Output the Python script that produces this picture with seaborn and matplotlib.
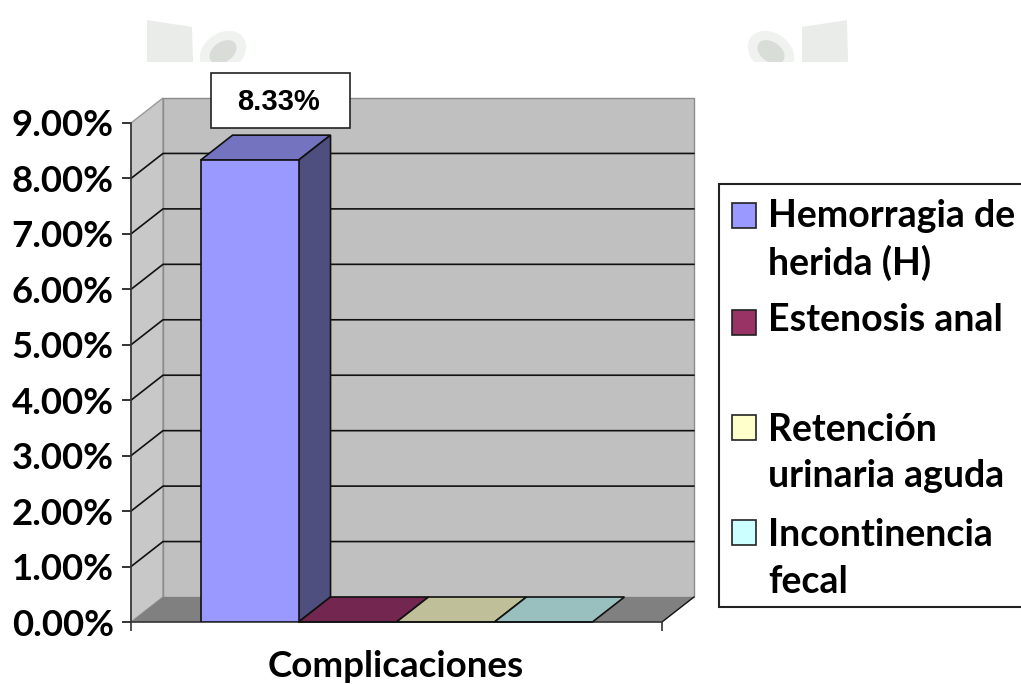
import matplotlib
matplotlib.use("Agg")
import matplotlib.pyplot as plt
import pandas as pd
import seaborn as sns
from matplotlib.patches import Ellipse, Polygon, Rectangle
from matplotlib.ticker import FuncFormatter
from matplotlib.transforms import Affine2D

# Data
series = ["Hemorragia de\nherida (H)", "Estenosis anal", "Retención\nurinaria aguda", "Incontinencia\nfecal"]
values = [8.33, 0, 0, 0]
y_ticks = [0, 1, 2, 3, 4, 5, 6, 7, 8, 9]
x_title = "Complicaciones"
value_label = "8.33%"

# Colors
front_colors = ["#9999FF", "#993366", "#FFFFCC", "#CCFFFF"]
top_colors = ["#7373BF", "#732650", "#BFBF99", "#99BFBF"]
side_colors = ["#4F4F7F", "#4C1933", "#7F7F66", "#667F7F"]

# Layout in pixels of the 1021x684 picture
W, H = 1021, 684
LEFT, RIGHT, TOP, BOTTOM = 131, 662, 123, 622
DX, DY = 32, 25

sns.set_style("white")
plt.rcParams["font.family"] = ["Lato", "DejaVu Sans"]

fig = plt.figure(figsize=(W / 100, H / 100), dpi=100)
ax = fig.add_axes([LEFT / W, 1 - BOTTOM / H, (RIGHT - LEFT) / W, (BOTTOM - TOP) / H])
px = Affine2D().scale(1, -1).translate(0, H)


def poly(points, color, edge="none", lw=1.0, z=1):
    ax.add_patch(Polygon(points, closed=True, facecolor=color, edgecolor=edge, linewidth=lw,
                         transform=px, clip_on=False, zorder=z))


df = pd.DataFrame({"grupo": [x_title] * len(series), "serie": series, "valor": values})
sns.barplot(data=df, x="grupo", y="valor", hue="serie", hue_order=series, palette=front_colors,
            width=0.738, gap=0, saturation=1, edgecolor="#111111", linewidth=1.2,
            legend=False, zorder=5, ax=ax)
ax.set_xlim(-0.5, 0.5)
ax.set_ylim(0, 9)
ax.patch.set_visible(False)

# Walls and floor
poly([(LEFT, BOTTOM), (LEFT + DX, BOTTOM - DY), (LEFT + DX, TOP - DY), (LEFT, TOP)], "#C8C8C8", "#9A9A9A", 1.0, 1)
poly([(LEFT + DX, BOTTOM - DY), (RIGHT + DX, BOTTOM - DY), (RIGHT + DX, TOP - DY), (LEFT + DX, TOP - DY)],
     "#C0C0C0", "#8C8C8C", 1.0, 1)
poly([(LEFT, BOTTOM), (RIGHT, BOTTOM), (RIGHT + DX, BOTTOM - DY), (LEFT + DX, BOTTOM - DY)], "#808080", z=1.5)

# Gridlines on the walls
for t in y_ticks[1:-1]:
    y = ax.transData.transform((0, t))[1]
    y = H - y
    ax.plot([LEFT, LEFT + DX, RIGHT + DX], [y, y - DY, y - DY], color="#111111", lw=1.2,
            transform=px, clip_on=False, zorder=2)
ax.plot([RIGHT, RIGHT + DX], [BOTTOM, BOTTOM - DY], color="#111111", lw=1.0, transform=px, clip_on=False, zorder=2)

# 3D faces of the bars
for bar, top_c, side_c in zip(ax.patches[:len(series)], top_colors, side_colors):
    x0, y0 = ax.transData.transform((bar.get_x(), bar.get_height()))
    x1, y1 = ax.transData.transform((bar.get_x() + bar.get_width(), 0))
    y0, y1 = H - y0, H - y1
    poly([(x0, y0), (x1, y0), (x1 + DX, y0 - DY), (x0 + DX, y0 - DY)], top_c, "#111111", 1.2, 4)
    if y1 - y0 > 1:
        poly([(x1, y0), (x1 + DX, y0 - DY), (x1 + DX, y1 - DY), (x1, y1)], side_c, "#111111", 1.2, 4)

# Axes
for name in ["top", "right"]:
    ax.spines[name].set_visible(False)
for name in ["left", "bottom"]:
    ax.spines[name].set_color("#333333")
    ax.spines[name].set_linewidth(1.2)
    ax.spines[name].set_zorder(3)
ax.set_yticks(y_ticks)
ax.yaxis.set_major_formatter(FuncFormatter(lambda v, pos: f"{v:.2f}%"))
ax.tick_params(axis="y", left=True, length=6.5, width=1.2, color="#111111", pad=6, labelsize=26.3, labelcolor="black")
for label in ax.get_yticklabels():
    label.set_fontweight("bold")
ax.set_xticks([-0.5, 0.5])
ax.set_xticklabels(["", ""])
ax.tick_params(axis="x", bottom=True, length=6.5, width=1.2, color="#333333")
ax.set_xlabel("")
ax.set_ylabel("")
fig.text(396 / W, 1 - 677 / H, x_title, ha="center", va="baseline", fontsize=26.5, fontweight="bold", color="black")

# Value label
ax.add_patch(Rectangle((211, 73), 139, 55, facecolor="white", edgecolor="#222222", linewidth=1.2,
                       transform=px, clip_on=False, zorder=6))
ax.text(278, 102, value_label, ha="center", va="center", fontsize=21, fontweight="bold", color="black",
        family="Liberation Sans", transform=px, zorder=7)

# Legend
legend_ax = fig.add_axes([0, 0, 1, 1])
legend_ax.axis("off")
legend_ax.set_xlim(0, W)
legend_ax.set_ylim(H, 0)
legend_ax.add_patch(Rectangle((719, 184), 310, 423, facecolor="white", edgecolor="#222222", linewidth=1.5))
swatch_tops = [203, 310, 415, 520]
line_baselines = [[227, 275], [331], [441, 487], [546, 593]]
for name, color, sw_y, bases in zip(series, front_colors, swatch_tops, line_baselines):
    legend_ax.add_patch(Rectangle((732, sw_y), 24, 25, facecolor=color, edgecolor="#222222", linewidth=1.2))
    for line, base in zip(name.split("\n"), bases):
        legend_ax.text(768, base, line, ha="left", va="baseline", fontsize=27, fontweight="bold", color="black")

# Faint watermark cut off at y=62
clip = Rectangle((0, 0), W, 62, transform=legend_ax.transData)
legend_ax.add_patch(Polygon([(147, 20), (192, 27), (193, 62), (147, 62)], facecolor="#E9ECE9", edgecolor="none"))
legend_ax.add_patch(Polygon([(802, 27), (847, 20), (848, 62), (802, 62)], facecolor="#E9ECE9", edgecolor="none"))
for cx, angle in [(223, -35), (771, 35)]:
    for wd, ht, col in [(50, 38, "#F0F2F0"), (30, 20, "#D8DDD8")]:
        e = Ellipse((cx, 52), wd, ht, angle=angle, facecolor=col, edgecolor="none")
        legend_ax.add_patch(e)
        e.set_clip_path(clip)

fig.savefig("out.png", dpi=100)
